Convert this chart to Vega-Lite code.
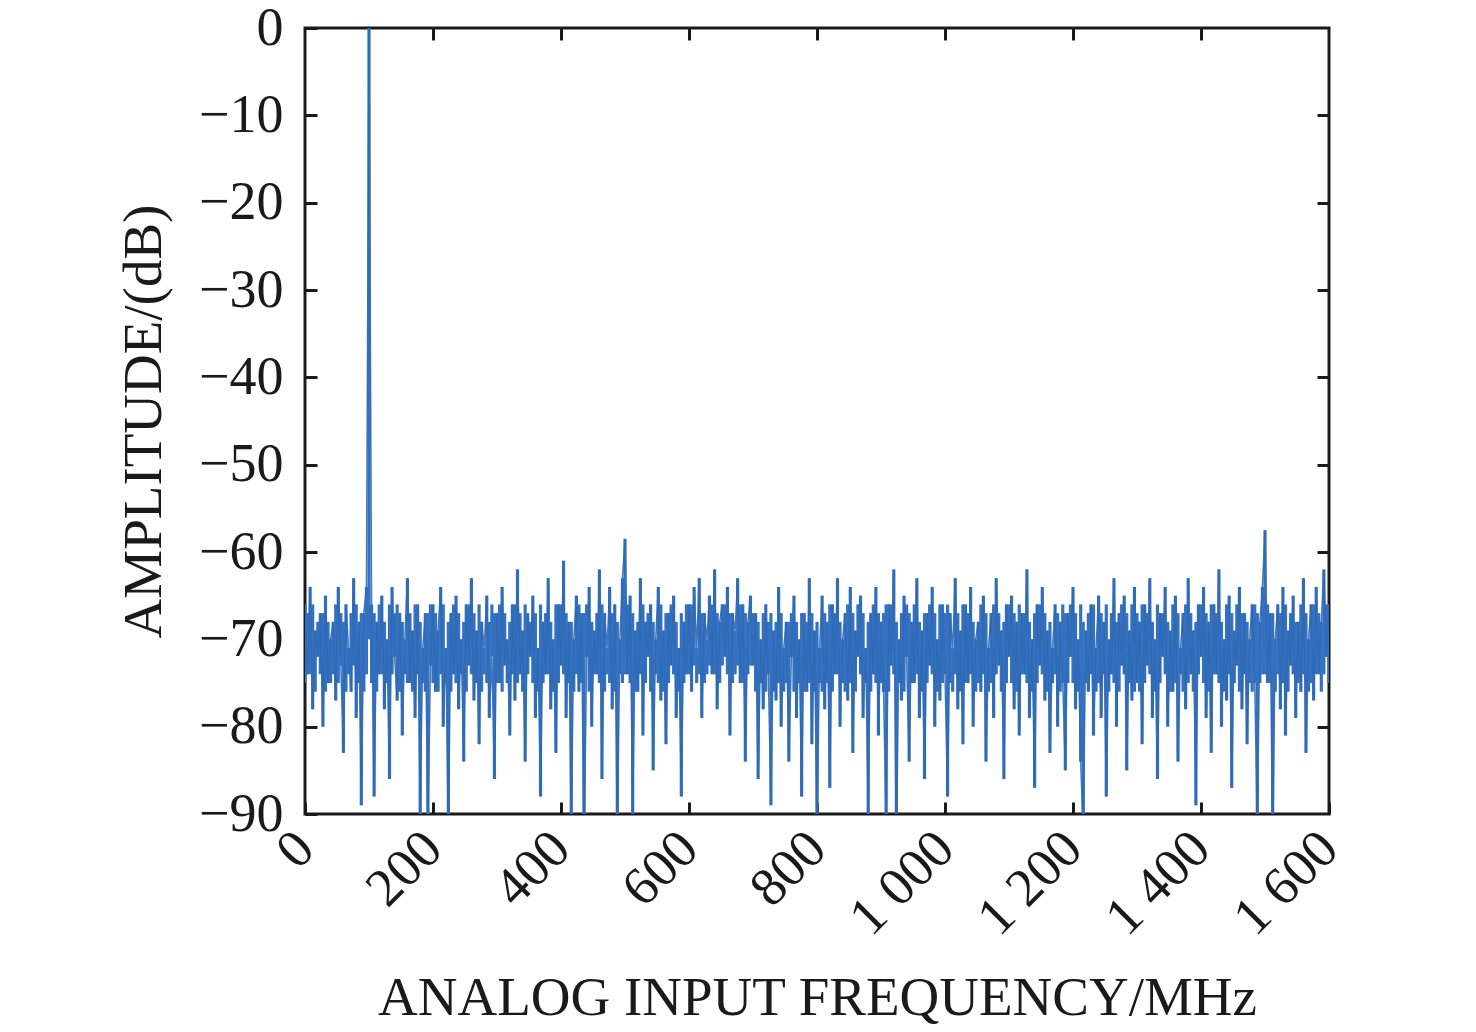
{
  "$schema": "https://vega.github.io/schema/vega-lite/v6.json",
  "width": 1024,
  "height": 786,
  "autosize": "none",
  "padding": {"left": 305, "top": 28, "right": 147, "bottom": 218},
  "background": "white",
  "config": {
    "font": "Liberation Serif",
    "view": {"stroke": "#1a1a1a", "strokeWidth": 3},
    "axis": {
      "domain": false,
      "grid": false,
      "tickColor": "#1a1a1a",
      "tickWidth": 3,
      "tickSize": -12,
      "labelFont": "Liberation Serif",
      "labelFontSize": 54,
      "labelColor": "#1a1a1a",
      "titleFont": "Liberation Serif",
      "titleFontSize": 55,
      "titleFontWeight": "normal",
      "titleColor": "#1a1a1a"
    }
  },
  "data": {
    "values": [
      {"f":0,"a":-66,"b":-75},{"f":4,"a":-74,"b":-67},{"f":8,"a":-64,"b":-74},{"f":12,"a":-78,"b":-66},{"f":16,"a":-69,"b":-76},{"f":20,"a":-72,"b":-68},{"f":24,"a":-67,"b":-74},{"f":28,"a":-80,"b":-67},{"f":32,"a":-65,"b":-76},{"f":36,"a":-75,"b":-68},{"f":40,"a":-70,"b":-75},{"f":44,"a":-68,"b":-74},{"f":48,"a":-77,"b":-66},{"f":52,"a":-64,"b":-75},{"f":56,"a":-73,"b":-67},{"f":60,"a":-83,"b":-68},{"f":64,"a":-66,"b":-76},{"f":68,"a":-71,"b":-74},{"f":72,"a":-76,"b":-67},{"f":76,"a":-63,"b":-73},{"f":80,"a":-79,"b":-66},{"f":84,"a":-68,"b":-75},{"f":88,"a":-89,"b":-67},{"f":92,"a":-67,"b":-76},{"f":96,"a":-64,"b":-74},
      {"f":100,"a":0,"b":-70},{"f":104,"a":-66,"b":-75},{"f":108,"a":-88,"b":-67},{"f":112,"a":-68,"b":-76},{"f":116,"a":-74,"b":-66},{"f":120,"a":-65,"b":-74},{"f":124,"a":-78,"b":-68},{"f":128,"a":-70,"b":-75},{"f":132,"a":-86,"b":-66},{"f":136,"a":-64,"b":-74},{"f":140,"a":-72,"b":-67},{"f":144,"a":-77,"b":-66},{"f":148,"a":-67,"b":-76},{"f":152,"a":-81,"b":-68},{"f":156,"a":-70,"b":-74},{"f":160,"a":-63,"b":-75},{"f":164,"a":-75,"b":-67},{"f":168,"a":-69,"b":-76},{"f":172,"a":-79,"b":-66},{"f":176,"a":-66,"b":-74},{"f":180,"a":-90,"b":-68},{"f":184,"a":-71,"b":-75},{"f":188,"a":-67,"b":-76},{"f":192,"a":-92,"b":-67},{"f":196,"a":-73,"b":-66},
      {"f":200,"a":-66,"b":-75},{"f":204,"a":-76,"b":-67},{"f":208,"a":-69,"b":-76},{"f":212,"a":-64,"b":-74},{"f":216,"a":-80,"b":-66},{"f":220,"a":-71,"b":-75},{"f":224,"a":-93,"b":-68},{"f":228,"a":-67,"b":-76},{"f":232,"a":-74,"b":-66},{"f":236,"a":-65,"b":-75},{"f":240,"a":-78,"b":-67},{"f":244,"a":-70,"b":-74},{"f":248,"a":-84,"b":-68},{"f":252,"a":-66,"b":-76},{"f":256,"a":-73,"b":-66},{"f":260,"a":-63,"b":-74},{"f":264,"a":-77,"b":-67},{"f":268,"a":-69,"b":-75},{"f":272,"a":-82,"b":-66},{"f":276,"a":-68,"b":-76},{"f":280,"a":-71,"b":-74},{"f":284,"a":-65,"b":-75},{"f":288,"a":-79,"b":-68},{"f":292,"a":-72,"b":-66},{"f":296,"a":-86,"b":-67},
      {"f":300,"a":-67,"b":-75},{"f":304,"a":-75,"b":-66},{"f":308,"a":-64,"b":-76},{"f":312,"a":-73,"b":-67},{"f":316,"a":-70,"b":-75},{"f":320,"a":-81,"b":-68},{"f":324,"a":-66,"b":-74},{"f":328,"a":-77,"b":-66},{"f":332,"a":-62,"b":-75},{"f":336,"a":-74,"b":-67},{"f":340,"a":-69,"b":-76},{"f":344,"a":-84,"b":-66},{"f":348,"a":-67,"b":-74},{"f":352,"a":-72,"b":-68},{"f":356,"a":-65,"b":-75},{"f":360,"a":-79,"b":-67},{"f":364,"a":-71,"b":-76},{"f":368,"a":-88,"b":-66},{"f":372,"a":-68,"b":-75},{"f":376,"a":-74,"b":-67},{"f":380,"a":-63,"b":-74},{"f":384,"a":-78,"b":-68},{"f":388,"a":-70,"b":-76},{"f":392,"a":-83,"b":-66},{"f":396,"a":-66,"b":-75},
      {"f":400,"a":-73,"b":-66},{"f":404,"a":-61,"b":-74},{"f":408,"a":-79,"b":-67},{"f":412,"a":-68,"b":-75},{"f":416,"a":-91,"b":-68},{"f":420,"a":-70,"b":-76},{"f":424,"a":-65,"b":-74},{"f":428,"a":-76,"b":-66},{"f":432,"a":-67,"b":-75},{"f":436,"a":-95,"b":-67},{"f":440,"a":-72,"b":-66},{"f":444,"a":-64,"b":-76},{"f":448,"a":-80,"b":-68},{"f":452,"a":-69,"b":-74},{"f":456,"a":-74,"b":-67},{"f":460,"a":-62,"b":-75},{"f":464,"a":-86,"b":-66},{"f":468,"a":-67,"b":-76},{"f":472,"a":-71,"b":-74},{"f":476,"a":-64,"b":-75},{"f":480,"a":-78,"b":-67},{"f":484,"a":-66,"b":-76},{"f":488,"a":-93,"b":-68},{"f":492,"a":-70,"b":-74},{"f":496,"a":-63,"b":-75},
      {"f":500,"a":-58.5,"b":-74},{"f":504,"a":-74,"b":-66},{"f":508,"a":-65,"b":-75},{"f":512,"a":-90,"b":-67},{"f":516,"a":-69,"b":-76},{"f":520,"a":-76,"b":-68},{"f":524,"a":-63,"b":-74},{"f":528,"a":-81,"b":-66},{"f":532,"a":-68,"b":-75},{"f":536,"a":-72,"b":-67},{"f":540,"a":-66,"b":-76},{"f":544,"a":-85,"b":-68},{"f":548,"a":-70,"b":-74},{"f":552,"a":-64,"b":-75},{"f":556,"a":-77,"b":-66},{"f":560,"a":-69,"b":-76},{"f":564,"a":-82,"b":-67},{"f":568,"a":-67,"b":-75},{"f":572,"a":-73,"b":-66},{"f":576,"a":-65,"b":-74},{"f":580,"a":-79,"b":-68},{"f":584,"a":-71,"b":-76},{"f":588,"a":-88,"b":-67},{"f":592,"a":-68,"b":-75},{"f":596,"a":-74,"b":-66},
      {"f":600,"a":-66,"b":-74},{"f":604,"a":-76,"b":-66},{"f":608,"a":-64,"b":-73},{"f":612,"a":-71,"b":-75},{"f":616,"a":-63,"b":-74},{"f":620,"a":-79,"b":-67},{"f":624,"a":-67,"b":-75},{"f":628,"a":-70,"b":-74},{"f":632,"a":-65,"b":-73},{"f":636,"a":-74,"b":-66},{"f":640,"a":-62,"b":-74},{"f":644,"a":-78,"b":-67},{"f":648,"a":-68,"b":-75},{"f":652,"a":-66,"b":-73},{"f":656,"a":-72,"b":-66},{"f":660,"a":-64,"b":-74},{"f":664,"a":-81,"b":-67},{"f":668,"a":-67,"b":-75},{"f":672,"a":-69,"b":-74},{"f":676,"a":-63,"b":-73},{"f":680,"a":-75,"b":-66},{"f":684,"a":-66,"b":-75},{"f":688,"a":-84,"b":-67},{"f":692,"a":-68,"b":-74},{"f":696,"a":-65,"b":-73},
      {"f":700,"a":-73,"b":-67},{"f":704,"a":-67,"b":-76},{"f":708,"a":-86,"b":-68},{"f":712,"a":-70,"b":-75},{"f":716,"a":-78,"b":-67},{"f":720,"a":-66,"b":-76},{"f":724,"a":-74,"b":-68},{"f":728,"a":-89,"b":-67},{"f":732,"a":-69,"b":-76},{"f":736,"a":-77,"b":-68},{"f":740,"a":-64,"b":-75},{"f":744,"a":-80,"b":-67},{"f":748,"a":-71,"b":-76},{"f":752,"a":-68,"b":-75},{"f":756,"a":-84,"b":-68},{"f":760,"a":-72,"b":-67},{"f":764,"a":-65,"b":-76},{"f":768,"a":-79,"b":-68},{"f":772,"a":-70,"b":-75},{"f":776,"a":-88,"b":-67},{"f":780,"a":-67,"b":-76},{"f":784,"a":-76,"b":-68},{"f":788,"a":-63,"b":-75},{"f":792,"a":-82,"b":-67},{"f":796,"a":-69,"b":-76},
      {"f":800,"a":-93,"b":-68},{"f":804,"a":-71,"b":-75},{"f":808,"a":-65,"b":-76},{"f":812,"a":-78,"b":-67},{"f":816,"a":-68,"b":-75},{"f":820,"a":-87,"b":-66},{"f":824,"a":-66,"b":-76},{"f":828,"a":-74,"b":-67},{"f":832,"a":-63,"b":-74},{"f":836,"a":-80,"b":-68},{"f":840,"a":-70,"b":-75},{"f":844,"a":-67,"b":-76},{"f":848,"a":-77,"b":-66},{"f":852,"a":-64,"b":-75},{"f":856,"a":-83,"b":-67},{"f":860,"a":-69,"b":-76},{"f":864,"a":-72,"b":-66},{"f":868,"a":-65,"b":-74},{"f":872,"a":-79,"b":-67},{"f":876,"a":-71,"b":-75},{"f":880,"a":-90,"b":-68},{"f":884,"a":-67,"b":-76},{"f":888,"a":-74,"b":-66},{"f":892,"a":-64,"b":-75},{"f":896,"a":-81,"b":-67},
      {"f":900,"a":-68,"b":-75},{"f":904,"a":-76,"b":-67},{"f":908,"a":-91,"b":-66},{"f":912,"a":-66,"b":-76},{"f":916,"a":-73,"b":-66},{"f":920,"a":-62,"b":-74},{"f":924,"a":-95,"b":-68},{"f":928,"a":-70,"b":-75},{"f":932,"a":-77,"b":-67},{"f":936,"a":-65,"b":-76},{"f":940,"a":-72,"b":-66},{"f":944,"a":-84,"b":-67},{"f":948,"a":-68,"b":-75},{"f":952,"a":-75,"b":-66},{"f":956,"a":-63,"b":-74},{"f":960,"a":-79,"b":-68},{"f":964,"a":-69,"b":-76},{"f":968,"a":-86,"b":-67},{"f":972,"a":-67,"b":-75},{"f":976,"a":-73,"b":-66},{"f":980,"a":-64,"b":-74},{"f":984,"a":-80,"b":-67},{"f":988,"a":-70,"b":-76},{"f":992,"a":-77,"b":-66},{"f":996,"a":-66,"b":-75},
      {"f":1000,"a":-74,"b":-67},{"f":1004,"a":-88,"b":-66},{"f":1008,"a":-67,"b":-75},{"f":1012,"a":-71,"b":-76},{"f":1016,"a":-63,"b":-74},{"f":1020,"a":-78,"b":-67},{"f":1024,"a":-69,"b":-76},{"f":1028,"a":-82,"b":-66},{"f":1032,"a":-66,"b":-75},{"f":1036,"a":-75,"b":-67},{"f":1040,"a":-64,"b":-74},{"f":1044,"a":-80,"b":-68},{"f":1048,"a":-70,"b":-76},{"f":1052,"a":-68,"b":-75},{"f":1056,"a":-76,"b":-66},{"f":1060,"a":-65,"b":-74},{"f":1064,"a":-84,"b":-67},{"f":1068,"a":-71,"b":-76},{"f":1072,"a":-67,"b":-75},{"f":1076,"a":-79,"b":-66},{"f":1080,"a":-63,"b":-74},{"f":1084,"a":-73,"b":-67},{"f":1088,"a":-69,"b":-76},{"f":1092,"a":-86,"b":-68},{"f":1096,"a":-66,"b":-75},
      {"f":1100,"a":-72,"b":-66},{"f":1104,"a":-65,"b":-75},{"f":1108,"a":-78,"b":-67},{"f":1112,"a":-68,"b":-76},{"f":1116,"a":-81,"b":-66},{"f":1120,"a":-67,"b":-74},{"f":1124,"a":-74,"b":-67},{"f":1128,"a":-62,"b":-75},{"f":1132,"a":-79,"b":-68},{"f":1136,"a":-70,"b":-76},{"f":1140,"a":-87,"b":-67},{"f":1144,"a":-66,"b":-75},{"f":1148,"a":-73,"b":-66},{"f":1152,"a":-64,"b":-74},{"f":1156,"a":-77,"b":-67},{"f":1160,"a":-69,"b":-76},{"f":1164,"a":-83,"b":-68},{"f":1168,"a":-71,"b":-75},{"f":1172,"a":-66,"b":-74},{"f":1176,"a":-80,"b":-67},{"f":1180,"a":-68,"b":-76},{"f":1184,"a":-75,"b":-66},{"f":1188,"a":-85,"b":-67},{"f":1192,"a":-67,"b":-75},{"f":1196,"a":-72,"b":-66},
      {"f":1200,"a":-64,"b":-75},{"f":1204,"a":-78,"b":-67},{"f":1208,"a":-70,"b":-76},{"f":1212,"a":-84,"b":-66},{"f":1216,"a":-92,"b":-68},{"f":1220,"a":-69,"b":-75},{"f":1224,"a":-76,"b":-67},{"f":1228,"a":-66,"b":-74},{"f":1232,"a":-81,"b":-66},{"f":1236,"a":-71,"b":-76},{"f":1240,"a":-65,"b":-75},{"f":1244,"a":-79,"b":-67},{"f":1248,"a":-68,"b":-74},{"f":1252,"a":-88,"b":-66},{"f":1256,"a":-70,"b":-76},{"f":1260,"a":-74,"b":-67},{"f":1264,"a":-63,"b":-75},{"f":1268,"a":-80,"b":-68},{"f":1272,"a":-67,"b":-76},{"f":1276,"a":-73,"b":-66},{"f":1280,"a":-65,"b":-74},{"f":1284,"a":-85,"b":-67},{"f":1288,"a":-69,"b":-75},{"f":1292,"a":-77,"b":-66},{"f":1296,"a":-64,"b":-76},
      {"f":1300,"a":-75,"b":-67},{"f":1304,"a":-68,"b":-76},{"f":1308,"a":-82,"b":-66},{"f":1312,"a":-66,"b":-75},{"f":1316,"a":-73,"b":-67},{"f":1320,"a":-63,"b":-74},{"f":1324,"a":-79,"b":-68},{"f":1328,"a":-70,"b":-76},{"f":1332,"a":-86,"b":-66},{"f":1336,"a":-67,"b":-75},{"f":1340,"a":-72,"b":-67},{"f":1344,"a":-64,"b":-74},{"f":1348,"a":-80,"b":-68},{"f":1352,"a":-69,"b":-76},{"f":1356,"a":-76,"b":-66},{"f":1360,"a":-65,"b":-75},{"f":1364,"a":-84,"b":-67},{"f":1368,"a":-71,"b":-74},{"f":1372,"a":-67,"b":-76},{"f":1376,"a":-78,"b":-66},{"f":1380,"a":-63,"b":-75},{"f":1384,"a":-74,"b":-67},{"f":1388,"a":-69,"b":-76},{"f":1392,"a":-89,"b":-68},{"f":1396,"a":-66,"b":-74},
      {"f":1400,"a":-72,"b":-66},{"f":1404,"a":-64,"b":-75},{"f":1408,"a":-79,"b":-67},{"f":1412,"a":-68,"b":-76},{"f":1416,"a":-83,"b":-66},{"f":1420,"a":-66,"b":-74},{"f":1424,"a":-74,"b":-67},{"f":1428,"a":-62,"b":-75},{"f":1432,"a":-80,"b":-68},{"f":1436,"a":-70,"b":-76},{"f":1440,"a":-77,"b":-66},{"f":1444,"a":-65,"b":-74},{"f":1448,"a":-87,"b":-67},{"f":1452,"a":-69,"b":-75},{"f":1456,"a":-73,"b":-66},{"f":1460,"a":-64,"b":-76},{"f":1464,"a":-78,"b":-67},{"f":1468,"a":-67,"b":-74},{"f":1472,"a":-82,"b":-68},{"f":1476,"a":-70,"b":-75},{"f":1480,"a":-66,"b":-76},{"f":1484,"a":-75,"b":-66},{"f":1488,"a":-92,"b":-67},{"f":1492,"a":-68,"b":-75},{"f":1496,"a":-64,"b":-74},
      {"f":1500,"a":-57.5,"b":-74},{"f":1504,"a":-75,"b":-66},{"f":1508,"a":-67,"b":-75},{"f":1512,"a":-94,"b":-67},{"f":1516,"a":-70,"b":-76},{"f":1520,"a":-66,"b":-74},{"f":1524,"a":-78,"b":-67},{"f":1528,"a":-64,"b":-75},{"f":1532,"a":-81,"b":-66},{"f":1536,"a":-69,"b":-76},{"f":1540,"a":-73,"b":-67},{"f":1544,"a":-65,"b":-74},{"f":1548,"a":-79,"b":-68},{"f":1552,"a":-68,"b":-75},{"f":1556,"a":-76,"b":-66},{"f":1560,"a":-63,"b":-74},{"f":1564,"a":-83,"b":-67},{"f":1568,"a":-70,"b":-76},{"f":1572,"a":-66,"b":-75},{"f":1576,"a":-77,"b":-66},{"f":1580,"a":-64,"b":-74},{"f":1584,"a":-74,"b":-67},{"f":1588,"a":-68,"b":-76},{"f":1592,"a":-62,"b":-74},{"f":1596,"a":-72,"b":-66},
      {"f":1600,"a":-66,"b":-75}
    ]
  },
  "layer": [
    {
      "mark": {"type": "rule", "color": "#3571c1", "strokeWidth": 3.2, "clip": true},
      "encoding": {
        "x": {
          "field": "f", "type": "quantitative",
          "scale": {"domain": [0, 1600], "nice": false, "zero": false},
          "axis": {
            "orient": "bottom",
            "values": [0, 200, 400, 600, 800, 1000, 1200, 1400, 1600],
            "labelExpr": "replace(format(datum.value, ','), ',', ' ')",
            "labelAngle": -45,
            "labelAlign": "right",
            "labelBaseline": "middle",
            "labelPadding": 38,
            "labelFlush": false,
            "labelOverlap": false,
            "title": "ANALOG INPUT FREQUENCY/MHz",
            "titleX": 512,
            "titleY": 200,
            "titleAlign": "center",
            "titleBaseline": "alphabetic"
          }
        },
        "y": {
          "field": "a", "type": "quantitative",
          "scale": {"domain": [-90, 0], "nice": false, "zero": false},
          "axis": {
            "orient": "left",
            "values": [0, -10, -20, -30, -40, -50, -60, -70, -80, -90],
            "labelPadding": 34,
            "labelFlush": false,
            "labelOverlap": false,
            "title": "AMPLITUDE/(dB)",
            "titleAngle": -90,
            "titleX": -145,
            "titleY": 393,
            "titleAlign": "center",
            "titleBaseline": "alphabetic"
          }
        },
        "y2": {"field": "b"}
      }
    },
    {
      "mark": {"type": "line", "color": "#2f69b3", "strokeWidth": 1.5, "opacity": 0.9, "clip": true},
      "encoding": {
        "x": {
          "field": "f", "type": "quantitative",
          "scale": {"domain": [0, 1600], "nice": false, "zero": false},
          "axis": {"orient": "top", "values": [200, 400, 600, 800, 1000, 1200, 1400], "labels": false, "title": null}
        },
        "y": {
          "field": "a", "type": "quantitative",
          "scale": {"domain": [-90, 0], "nice": false, "zero": false},
          "axis": {"orient": "right", "values": [-10, -20, -30, -40, -50, -60, -70, -80], "labels": false, "title": null}
        }
      }
    }
  ],
  "resolve": {"axis": {"x": "independent", "y": "independent"}}
}
